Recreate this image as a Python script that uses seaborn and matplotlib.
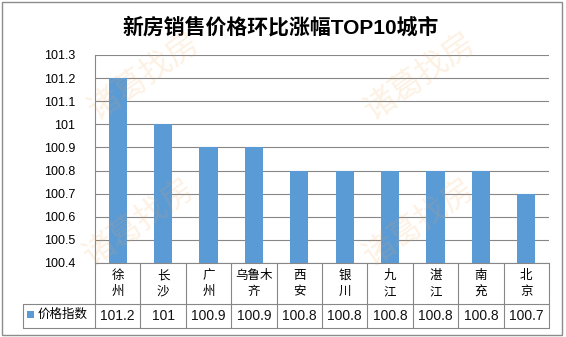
import matplotlib
matplotlib.use('Agg')
import matplotlib.pyplot as plt
import matplotlib.transforms as mtransforms
from matplotlib.patches import Rectangle
import seaborn as sns
import pandas as pd

# ---- data ----
cities = ["徐州", "长沙", "广州", "乌鲁木齐", "西安", "银川", "九江", "湛江", "南充", "北京"]
city_labels = ["徐\n州", "长\n沙", "广\n州", "乌鲁木\n齐", "西\n安", "银\n川", "九\n江", "湛\n江", "南\n充", "北\n京"]
values = [101.2, 101.0, 100.9, 100.9, 100.8, 100.8, 100.8, 100.8, 100.8, 100.7]
series_name = "价格指数"
title = "新房销售价格环比涨幅TOP10城市"
y_ticks = [100.4, 100.5, 100.6, 100.7, 100.8, 100.9, 101.0, 101.1, 101.2, 101.3]
watermark = "诸葛找房"

sns.set_theme(style='white')
plt.rcParams['font.family'] = ['Liberation Sans', 'Noto Sans CJK SC', 'DejaVu Sans']

W, H = 566, 337
fig = plt.figure(figsize=(W / 100, H / 100), dpi=100)
fig.patch.set_facecolor('white')

def fx(x):
    return x / W

def fy(y):
    return 1 - y / H

ax_l, ax_r, ax_t, ax_b = 95, 549, 55, 263
ax = fig.add_axes([fx(ax_l), fy(ax_b), (ax_r - ax_l) / W, (ax_b - ax_t) / H])

grid_c = '#878787'
bar_c = '#5B9BD5'

df = pd.DataFrame({'city': cities, 'value': values})
sns.barplot(data=df, x='city', y='value', color=bar_c, saturation=1, width=0.4,
            linewidth=0, edgecolor='none', ax=ax)

ax.set_ylim(y_ticks[0], y_ticks[-1])
ax.set_xlim(-0.5, len(cities) - 0.5)
ax.set_yticks(y_ticks)
ax.set_yticklabels(['{:g}'.format(v) for v in y_ticks])
ax.tick_params(axis='y', length=0, pad=14, labelsize=9, colors='black')
ax.set_xticks([])
ax.set_xlabel('')
ax.set_ylabel('')
ax.yaxis.grid(True, color=grid_c, lw=0.8)
ax.set_axisbelow(True)
for s in ['top', 'right']:
    ax.spines[s].set_visible(False)
for s in ['left', 'bottom']:
    ax.spines[s].set_color(grid_c)
    ax.spines[s].set_linewidth(0.8)
ax.set_facecolor('white')

# ---- data table ----
ah = ax_b - ax_t
aw = ax_r - ax_l
row1 = -(304 - ax_b) / ah
row2 = -(328 - ax_b) / ah
x_left = -(ax_l - 23) / aw
trans = mtransforms.blended_transform_factory(ax.transData, ax.transAxes)
n = len(cities)
for i in range(n + 1):
    ax.plot([i - 0.5, i - 0.5], [0, row2], transform=trans, clip_on=False,
            color=grid_c, lw=0.8)
ax.plot([x_left, 1], [row1, row1], transform=ax.transAxes, clip_on=False, color=grid_c, lw=0.8)
ax.plot([x_left, 1], [row2, row2], transform=ax.transAxes, clip_on=False, color=grid_c, lw=0.8)
ax.plot([x_left, x_left], [row1, row2], transform=ax.transAxes, clip_on=False, color=grid_c, lw=0.8)

cat_y = -(284 - ax_b) / ah
val_y = -(316.5 - ax_b) / ah
for i, (lab, v) in enumerate(zip(city_labels, values)):
    ax.text(i, cat_y, lab, transform=trans, ha='center', va='center', fontsize=9,
            linespacing=1.45, multialignment='center', color='black')
    ax.text(i, val_y, '{:g}'.format(v), transform=trans, ha='center', va='center',
            fontsize=10, color='#111111')

# legend key in table
fig.patches.append(Rectangle((fx(27), fy(317.5)), 7 / W, 7 / H, transform=fig.transFigure,
                             facecolor=bar_c, edgecolor='none'))
fig.text(fx(38), fy(315), series_name, ha='left', va='center', fontsize=9, color='black')

# title
fig.text(fx(281), fy(27), title, ha='center', va='center', fontsize=15,
         fontweight='bold', color='black')

# outer border
fig.patches.append(Rectangle((fx(2), fy(335)), 560 / W, 333 / H, transform=fig.transFigure,
                             fill=False, edgecolor='#8c8c8c', lw=1))

# watermarks
for (wx, wy) in [(145, 77), (421, 77), (140, 223), (420, 223)]:
    fig.text(fx(wx), fy(wy), watermark, ha='center', va='center', rotation=35,
             fontsize=23, color='#F7A14A', alpha=0.15, zorder=5)

fig.savefig('out.png', dpi=100)
